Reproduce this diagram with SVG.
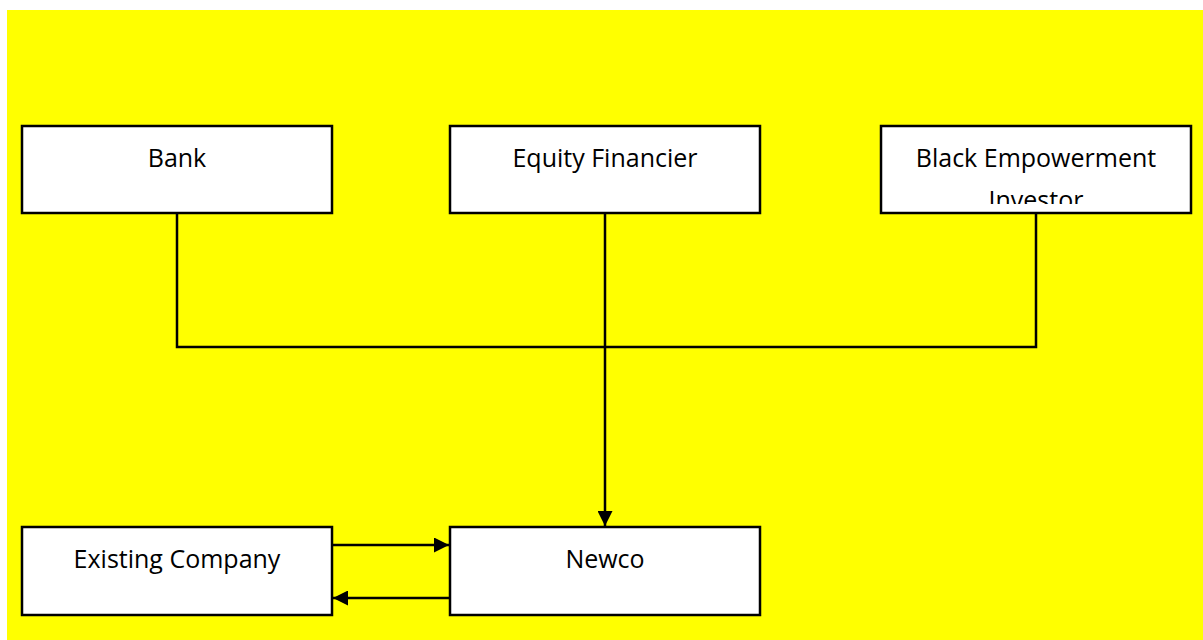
<svg xmlns="http://www.w3.org/2000/svg" width="1203" height="640" viewBox="0 0 1203 640">
<style>
.box{fill:#fff;stroke:#000;stroke-width:2.5}
.lbl{font-family:"Open Sans","Liberation Sans",sans-serif;font-size:25px;fill:#000;text-anchor:middle}
.ln{fill:none;stroke:#000;stroke-width:2.5}
</style>
<defs>
<marker id="ah" viewBox="0 0 15 15" refX="15" refY="7.5" markerWidth="15" markerHeight="15" markerUnits="userSpaceOnUse" orient="auto">
<path d="M0,0 L15,7.5 L0,15 Z" fill="#000"/>
</marker>
<clipPath id="clipBlack"><rect x="882" y="126" width="309" height="78"/></clipPath>
</defs>
<rect x="0" y="0" width="1203" height="640" fill="#fff"/>
<rect x="7" y="10" width="1196" height="630" fill="#ffff00"/>
<g id="connectors">
<polyline class="ln" points="177,213 177,347 1036,347 1036,213"/>
<line class="ln" x1="605" y1="213" x2="605" y2="526" marker-end="url(#ah)"/>
<line class="ln" x1="332" y1="545" x2="449" y2="545" marker-end="url(#ah)"/>
<line class="ln" x1="450" y1="598" x2="333" y2="598" marker-end="url(#ah)"/>
</g>
<g id="bank">
<rect class="box" x="22" y="126" width="310" height="87"/>
<text class="lbl" x="177" y="167">Bank</text>
</g>
<g id="equity">
<rect class="box" x="450" y="126" width="310" height="87"/>
<text class="lbl" x="605" y="167">Equity Financier</text>
</g>
<g id="black">
<rect class="box" x="881" y="126" width="310" height="87"/>
<g clip-path="url(#clipBlack)">
<text class="lbl" x="1036" y="167">Black Empowerment</text>
<text class="lbl" x="1036" y="209">Investor</text>
</g>
</g>
<g id="existing">
<rect class="box" x="22" y="527" width="310" height="88"/>
<text class="lbl" x="177" y="568">Existing Company</text>
</g>
<g id="newco">
<rect class="box" x="450" y="527" width="310" height="88"/>
<text class="lbl" x="605" y="568">Newco</text>
</g>
</svg>
